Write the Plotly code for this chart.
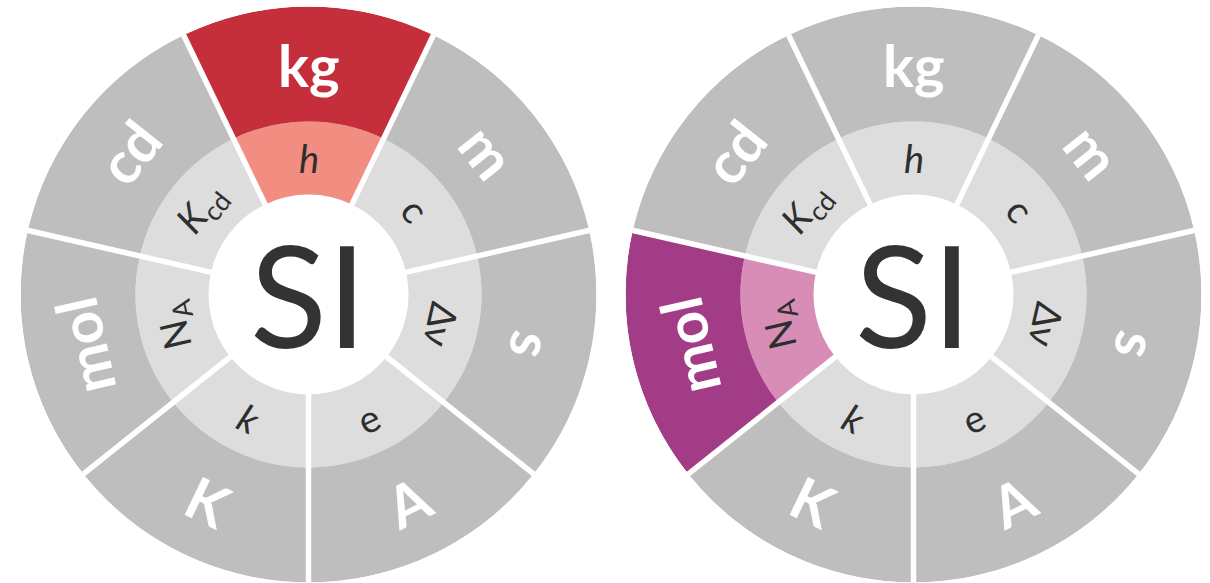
import math
import plotly.graph_objects as go

# ---- data ----
units = ["kg", "m", "s", "A", "K", "mol", "cd"]
constants = ["<i>h</i>", "c", "Δν", "e", "<i>k</i>", "N<sub>A</sub>", "<i>K</i><sub>cd</sub>"]
highlight_left = "kg"
highlight_right = "mol"

# colours
outer_gray = "#bebebe"
inner_gray = "#dddddd"
left_outer_hi, left_inner_hi = "#c52e3b", "#f28e81"
right_outer_hi, right_inner_hi = "#a23c86", "#d88db7"

# ring radii (pixels)
R_HOLE, R_MID, R_OUT = 100, 173, 288

W, H = 1210, 583
centers = [(308.5, 294.5), (913.5, 294.5)]

n = len(units)
step = 360 / n
thetas = [i * step for i in range(n)]

fig = go.Figure()
annotations = []

wheels = [
    (highlight_left, left_outer_hi, left_inner_hi),
    (highlight_right, right_outer_hi, right_inner_hi),
]

for w, ((cx, cy), (hi, oc, ic)) in enumerate(zip(centers, wheels)):
    pname = "polar" if w == 0 else "polar2"
    sub = "polar" if w == 0 else "polar2"
    outer_cols = [oc if u == hi else outer_gray for u in units]
    inner_cols = [ic if u == hi else inner_gray for u in units]
    fig.add_trace(go.Barpolar(theta=thetas, r=[R_MID - R_HOLE] * n, base=[R_HOLE] * n,
                              width=[step] * n, marker=dict(color=inner_cols, line=dict(width=0)),
                              subplot=sub, hoverinfo="skip", showlegend=False))
    fig.add_trace(go.Barpolar(theta=thetas, r=[R_OUT - R_MID] * n, base=[R_MID] * n,
                              width=[step] * n, marker=dict(color=outer_cols, line=dict(width=0)),
                              subplot=sub, hoverinfo="skip", showlegend=False))
    # separators
    sr, st = [], []
    for t in thetas:
        b = t + step / 2
        sr += [R_HOLE - 5, R_OUT + 5, None]
        st += [b, b, None]
    fig.add_trace(go.Scatterpolar(r=sr, theta=st, mode="lines",
                                  line=dict(color="white", width=5.5),
                                  subplot=sub, hoverinfo="skip", showlegend=False,
                                  cliponaxis=True))
    dom = dict(x=[(cx - R_OUT) / W, (cx + R_OUT) / W],
               y=[(H - cy - R_OUT) / H, (H - cy + R_OUT) / H])
    fig.update_layout(**{pname: dict(
        domain=dom, bgcolor="white", bargap=0, barmode="overlay", hole=0,
        radialaxis=dict(visible=False, range=[0, R_OUT], showgrid=False),
        angularaxis=dict(visible=False, rotation=90, direction="clockwise",
                         showgrid=False, showline=False),
    )})

    def place(r, phi):
        a = math.radians(phi)
        x = cx + r * math.sin(a)
        y = cy - r * math.cos(a)
        return x / W, (H - y) / H

    for i, t in enumerate(thetas):
        ang = t if not (135 < t < 225) else t - 180
        if ang > 180:
            ang -= 360
        x, y = place(230, t)
        annotations.append(dict(x=x, y=y, xref="paper", yref="paper", text=units[i],
                                showarrow=False, textangle=ang, xanchor="center", yanchor="middle",
                                font=dict(family="Lato", size=58, color="white", weight="bold")))
        x, y = place(137, t)
        annotations.append(dict(x=x, y=y, xref="paper", yref="paper", text=constants[i],
                                showarrow=False, textangle=ang, xanchor="center", yanchor="middle",
                                font=dict(family="Lato", size=38, color="#2e2e2e")))
    x, y = place(0, 0)
    annotations.append(dict(x=x, y=y, xref="paper", yref="paper", text="SI", yshift=2,
                            showarrow=False, xanchor="center", yanchor="middle",
                            font=dict(family="Lato", size=142, color="#333333")))

fig.update_layout(width=W, height=H, margin=dict(l=0, r=0, t=0, b=0),
                  paper_bgcolor="white", plot_bgcolor="white",
                  annotations=annotations, showlegend=False)

fig.write_html("out.html", config={"displayModeBar": False},
               post_script="document.body.style.margin='0';document.body.style.overflow='hidden';")
